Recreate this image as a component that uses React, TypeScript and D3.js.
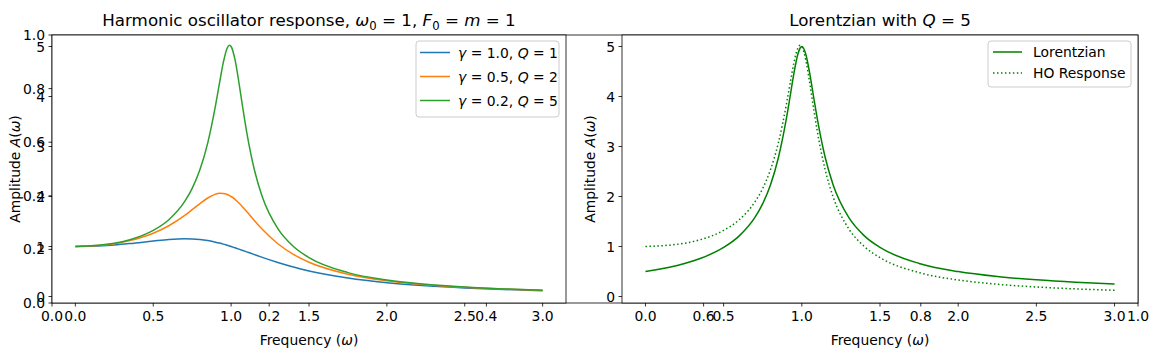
import * as d3 from "d3";
import React from "react";

const omega = [0, 0.25, 0.35, 0.5, 0.6, 0.7, 0.75, 0.8, 0.85, 0.9, 0.925, 0.95, 0.975, 0.99, 1.0, 1.025, 1.05, 1.075, 1.1, 1.15, 1.2, 1.3, 1.4, 1.5, 1.75, 2.0, 2.25, 2.5, 2.75, 3.0];
const ampGamma10 = [1.0, 1.031, 1.059, 1.109, 1.14, 1.155, 1.152, 1.14, 1.118, 1.087, 1.068, 1.047, 1.024, 1.01, 1.0, 0.974, 0.948, 0.921, 0.893, 0.837, 0.782, 0.68, 0.589, 0.512, 0.37, 0.277, 0.215, 0.172, 0.141, 0.117];
const ampGamma05 = [1.0, 1.057, 1.118, 1.265, 1.415, 1.617, 1.736, 1.858, 1.97, 2.047, 2.064, 2.062, 2.041, 2.019, 2.0, 1.942, 1.87, 1.787, 1.699, 1.517, 1.344, 1.055, 0.842, 0.686, 0.446, 0.316, 0.237, 0.185, 0.149, 0.123];
const ampGamma02 = [1.0, 1.065, 1.136, 1.322, 1.536, 1.891, 2.162, 2.538, 3.073, 3.821, 4.261, 4.683, 4.971, 5.025, 5.0, 4.736, 4.28, 3.768, 3.288, 2.525, 1.995, 1.356, 1.0, 0.778, 0.478, 0.33, 0.245, 0.19, 0.152, 0.125];
const ampLorentz = [0.498, 0.661, 0.76, 0.981, 1.213, 1.581, 1.857, 2.236, 2.774, 3.536, 4.0, 4.472, 4.851, 4.975, 5.0, 4.851, 4.472, 4.0, 3.536, 2.774, 2.236, 1.581, 1.213, 0.981, 0.661, 0.498, 0.399, 0.333, 0.285, 0.25];

const hoSeries = [
    { gamma: "1.0", q: "1", values: ampGamma10, color: "#1f77b4" },
    { gamma: "0.5", q: "2", values: ampGamma05, color: "#ff7f0e" },
    { gamma: "0.2", q: "5", values: ampGamma02, color: "#2ca02c" },
];

const xTicks = [0, 0.5, 1, 1.5, 2, 2.5, 3];
const yTicks = [0, 1, 2, 3, 4, 5];
const bgTicks = [0, 0.2, 0.4, 0.6, 0.8, 1.0];

const WIDTH = 1158;
const HEIGHT = 360;
const TOP = 35;
const BOTTOM = 303;
const LEFT_AX = { x0: 52, x1: 566 };
const RIGHT_AX = { x0: 622, x1: 1138 };
const FONT = "DejaVu Sans, sans-serif";
const FS = 13.9;

const It = ({ children }: { children: React.ReactNode }) => (
    <tspan fontStyle="italic">{children}</tspan>
);
// subscript followed by text back on the baseline
const Sub = ({ children, after }: { children: React.ReactNode; after: string }) => (
    <>
        <tspan fontSize="0.7em" dy={4}>{children}</tspan>
        <tspan dy={-4}>{after}</tspan>
    </>
);

const fmt = (v: number) => v.toFixed(1);

const App = () => {
    const bgX = d3.scaleLinear().domain([0, 1]).range([LEFT_AX.x0, RIGHT_AX.x1]);
    const bgY = d3.scaleLinear().domain([0, 1]).range([BOTTOM, TOP]);
    const yScale = d3.scaleLinear().domain([-0.13, 5.23]).range([BOTTOM, TOP]);
    const xLeft = d3.scaleLinear().domain([-0.15, 3.15]).range([LEFT_AX.x0, LEFT_AX.x1]);
    const xRight = d3.scaleLinear().domain([-0.15, 3.15]).range([RIGHT_AX.x0, RIGHT_AX.x1]);

    const makeLine = (xs: d3.ScaleLinear<number, number>) =>
        d3
            .line<number>()
            .x((_, i) => xs(omega[i]))
            .y((d) => yScale(d))
            .curve(d3.curveMonotoneX);

    const leftLine = makeLine(xLeft);
    const rightLine = makeLine(xRight);

    const xAxis = (xs: d3.ScaleLinear<number, number>, key: string) => (
        <g key={key}>
            {xTicks.map((t) => (
                <g key={t} transform={`translate(${xs(t)},${BOTTOM})`}>
                    <line y2={3.5} stroke="black" strokeWidth={0.8} />
                    <text y={18} textAnchor="middle">{fmt(t)}</text>
                </g>
            ))}
            {yTicks.map((t) => (
                <g key={t} transform={`translate(${xs.range()[0]},${yScale(t)})`}>
                    <line x2={-3.5} stroke="black" strokeWidth={0.8} />
                    <text x={-7} dy="0.36em" textAnchor="end">{t}</text>
                </g>
            ))}
        </g>
    );

    const frame = (x0: number, x1: number) => (
        <rect x={x0} y={TOP} width={x1 - x0} height={BOTTOM - TOP} fill="none" stroke="black" strokeWidth={0.8} />
    );

    return (
        <svg
            width={WIDTH}
            height={HEIGHT}
            style={{ position: "absolute", left: 0, top: 0, background: "white" }}
            fontFamily={FONT}
            fontSize={FS}
        >
            {/* background figure-level axes */}
            <rect x={0} y={0} width={WIDTH} height={HEIGHT} fill="white" />
            {frame(LEFT_AX.x0, RIGHT_AX.x1)}
            {bgTicks.map((t) => (
                <g key={"bx" + t} transform={`translate(${bgX(t)},${BOTTOM})`}>
                    <line y2={3.5} stroke="black" strokeWidth={0.8} />
                    <text y={18} textAnchor="middle">{fmt(t)}</text>
                </g>
            ))}
            {bgTicks.map((t) => (
                <g key={"by" + t} transform={`translate(${LEFT_AX.x0},${bgY(t)})`}>
                    <line x2={-3.5} stroke="black" strokeWidth={0.8} />
                    <text x={-7} dy="0.36em" textAnchor="end">{fmt(t)}</text>
                </g>
            ))}

            {/* left panel */}
            <rect x={LEFT_AX.x0} y={TOP} width={LEFT_AX.x1 - LEFT_AX.x0} height={BOTTOM - TOP} fill="white" />
            {hoSeries.map((s) => (
                <path key={s.gamma} d={leftLine(s.values) || ""} fill="none" stroke={s.color} strokeWidth={1.5} />
            ))}
            {frame(LEFT_AX.x0, LEFT_AX.x1)}
            {xAxis(xLeft, "lx")}
            <text x={(LEFT_AX.x0 + LEFT_AX.x1) / 2} y={26} textAnchor="middle" fontSize={16.7}>
                Harmonic oscillator response, <It>ω</It><Sub after=" = 1, ">0</Sub><It>F</It><Sub after=" = ">0</Sub><It>m</It> = 1
            </text>
            <text x={(LEFT_AX.x0 + LEFT_AX.x1) / 2} y={345} textAnchor="middle">
                Frequency (<It>ω</It>)
            </text>
            <text transform={`translate(20,${(TOP + BOTTOM) / 2}) rotate(-90)`} textAnchor="middle">
                Amplitude <It>A</It>(<It>ω</It>)
            </text>
            <g>
                <rect x={416} y={41} width={143} height={76} rx={3} fill="white" fillOpacity={0.8} stroke="#cccccc" strokeWidth={1} />
                {hoSeries.map((s, i) => (
                    <g key={s.gamma} transform={`translate(0,${52.5 + i * 24})`}>
                        <line x1={420} x2={450} stroke={s.color} strokeWidth={1.5} />
                        <text x={458} dy="0.36em">
                            <It>γ</It> = {s.gamma}, <It>Q</It> = {s.q}
                        </text>
                    </g>
                ))}
            </g>

            {/* right panel */}
            <rect x={RIGHT_AX.x0} y={TOP} width={RIGHT_AX.x1 - RIGHT_AX.x0} height={BOTTOM - TOP} fill="white" />
            <path d={rightLine(ampLorentz) || ""} fill="none" stroke="#008000" strokeWidth={1.5} />
            <path d={rightLine(ampGamma02) || ""} fill="none" stroke="#008000" strokeWidth={1.5} strokeDasharray="1.5 2.475" />
            {frame(RIGHT_AX.x0, RIGHT_AX.x1)}
            {xAxis(xRight, "rx")}
            <text x={(RIGHT_AX.x0 + RIGHT_AX.x1) / 2} y={26} textAnchor="middle" fontSize={16.7}>
                Lorentzian with <It>Q</It> = 5
            </text>
            <text x={(RIGHT_AX.x0 + RIGHT_AX.x1) / 2} y={345} textAnchor="middle">
                Frequency (<It>ω</It>)
            </text>
            <text transform={`translate(595,${(TOP + BOTTOM) / 2}) rotate(-90)`} textAnchor="middle">
                Amplitude <It>A</It>(<It>ω</It>)
            </text>
            <g>
                <rect x={988} y={41} width={143} height={46} rx={3} fill="white" fillOpacity={0.8} stroke="#cccccc" strokeWidth={1} />
                <line x1={993} x2={1022} y1={52} y2={52} stroke="#008000" strokeWidth={1.5} />
                <text x={1033} y={52} dy="0.36em">Lorentzian</text>
                <line x1={993} x2={1022} y1={73} y2={73} stroke="#008000" strokeWidth={1.5} strokeDasharray="1.5 2.475" />
                <text x={1033} y={73} dy="0.36em">HO Response</text>
            </g>
        </svg>
    );
};

export default App;
